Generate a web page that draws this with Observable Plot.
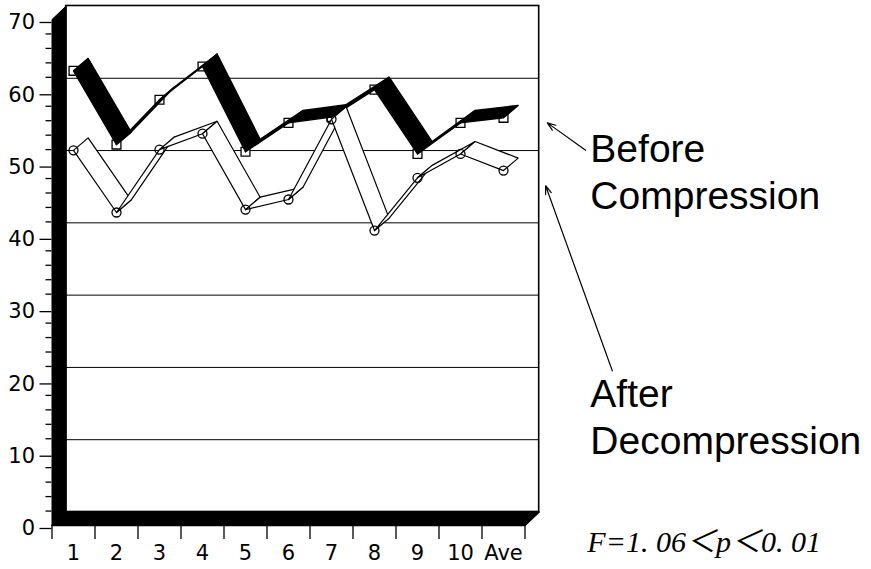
<!DOCTYPE html>
<html>
<head>
<meta charset="utf-8">
<script src="https://cdn.jsdelivr.net/npm/d3@7"></script>
<script src="https://cdn.jsdelivr.net/npm/@observablehq/plot@0.6"></script>
<style>
  html, body { margin: 0; padding: 0; background: #fff; overflow: hidden; }
  #chart svg { display: block; }
</style>
</head>
<body>
<div id="chart"></div>
<script>
// ---- data ----
const categories = ["1", "2", "3", "4", "5", "6", "7", "8", "9", "10", "Ave"];
const beforeCompression = [62.9, 52.7, 58.9, 63.5, 51.7, 55.7, 56.5, 60.3, 51.4, 55.7, 56.4];
const afterDecompression = [51.9, 43.3, 52.0, 54.2, 43.7, 45.1, 56.2, 40.8, 48.1, 51.4, 49.1];
const yTickValues = [0, 10, 20, 30, 40, 50, 60, 70];
const gridValues = [10, 20, 30, 40, 50, 60];
const statText = "F=1. 06＜p＜0. 01";

// ---- pseudo-3D depth (in data units) ----
const WALL_DX = 0.33, WALL_DY = 1.87;
const RIB_DX = 0.34, RIB_DY = 1.72;
const X0 = -0.5, X1 = categories.length - 0.5, YMAX = 70;

const idx = categories.map((_, i) => i);
const yMinorTicks = d3.range(0, YMAX + 1, 2).filter(v => v % 10 !== 0);
const xBoundaries = d3.range(X0, X1 + 0.001, 1);

function ribbons(values, name) {
  const pts = [];
  for (let i = 0; i < values.length - 1; i++) {
    const seg = name + i;
    pts.push({seg, x: i, y: values[i]});
    pts.push({seg, x: i + 1, y: values[i + 1]});
    pts.push({seg, x: i + 1 + RIB_DX, y: values[i + 1] + RIB_DY});
    pts.push({seg, x: i + RIB_DX, y: values[i] + RIB_DY});
  }
  return pts;
}

const leftWall = [
  {x: X0, y: 0}, {x: X0, y: YMAX},
  {x: X0 + WALL_DX, y: YMAX + WALL_DY}, {x: X0 + WALL_DX, y: WALL_DY}
];
const floor = [
  {x: X0, y: 0}, {x: X1, y: 0},
  {x: X1 + WALL_DX, y: WALL_DY}, {x: X0 + WALL_DX, y: WALL_DY}
];
const backWall = [{x1: X0 + WALL_DX, x2: X1 + WALL_DX, y1: WALL_DY, y2: YMAX + WALL_DY}];

const beforePts = idx.map(i => ({x: i, y: beforeCompression[i]}));
const afterPts = idx.map(i => ({x: i, y: afterDecompression[i]}));

const labels = [
  {x: 12.02, y: 52.0, text: "Before"},
  {x: 12.02, y: 45.5, text: "Compression"},
  {x: 12.02, y: 18.1, text: "After"},
  {x: 12.02, y: 11.6, text: "Decompression"}
];
const arrows = [
  {x1: 11.91, y1: 51.9, x2: 11.02, y2: 55.7},
  {x1: 12.53, y1: 21.4, x2: 10.98, y2: 47.0}
];

const chart = Plot.plot({
  width: 871,
  height: 569,
  marginLeft: 51.5,
  marginRight: 346.5,
  marginTop: 19,
  marginBottom: 44,
  x: {type: "linear", domain: [X0, X1], axis: null},
  y: {type: "linear", domain: [0, YMAX], axis: null},
  style: {fontFamily: "DejaVu Sans, sans-serif", color: "black", background: "white", overflow: "visible"},
  marks: [
    // back wall and gridlines
    Plot.rect(backWall, {x1: "x1", x2: "x2", y1: "y1", y2: "y2", fill: "white", stroke: "black", strokeWidth: 1.6}),
    Plot.ruleY(gridValues, {y: d => d + WALL_DY, x1: () => X0 + WALL_DX, x2: () => X1 + WALL_DX, stroke: "black", strokeWidth: 1}),
    // black side wall and floor
    Plot.line(leftWall, {x: "x", y: "y", curve: "linear-closed", fill: "black", stroke: "black", strokeWidth: 1}),
    Plot.line(floor, {x: "x", y: "y", curve: "linear-closed", fill: "black", stroke: "black", strokeWidth: 1.5}),
    // axes
    Plot.axisY(yTickValues, {tickSize: 12, tickPadding: 5, fontSize: 21, dy: 3, stroke: "black", strokeWidth: 1.3}),
    Plot.axisY(yMinorTicks, {tickSize: 6, tickFormat: () => "", stroke: "black", strokeWidth: 1.3}),
    Plot.axisX(xBoundaries, {tickSize: 14, tickFormat: () => "", stroke: "black", strokeWidth: 1.3}),
    Plot.axisX(idx, {tickSize: 0, tickPadding: 20, fontSize: 21, tickFormat: i => categories[i]}),
    // Before Compression: squares under black ribbons
    Plot.dot(beforePts, {x: "x", y: "y", symbol: "square", r: 5, fill: "white", stroke: "black", strokeWidth: 1.3}),
    Plot.line(ribbons(beforeCompression, "b"), {x: "x", y: "y", z: "seg", curve: "linear-closed", fill: "black", stroke: "black", strokeWidth: 1.4, strokeLinejoin: "round"}),
    // After Decompression: white ribbons with circles on top
    Plot.line(ribbons(afterDecompression, "a"), {x: "x", y: "y", z: "seg", curve: "linear-closed", fill: "white", stroke: "black", strokeWidth: 1.2, strokeLinejoin: "round"}),
    Plot.dot(afterPts, {x: "x", y: "y", r: 4.5, fill: "none", stroke: "black", strokeWidth: 1.3}),
    // annotations
    Plot.arrow(arrows, {x1: "x1", y1: "y1", x2: "x2", y2: "y2", stroke: "black", strokeWidth: 1.2, headLength: 11, headAngle: 40}),
    Plot.text(labels, {x: "x", y: "y", text: "text", textAnchor: "start", fontSize: 39, fontFamily: "Liberation Sans, Arial, sans-serif", fill: "black"}),
    Plot.text([statText], {x: () => 11.95, y: () => -2.35, text: d => d, textAnchor: "start", fontSize: 30, fontStyle: "italic", fontFamily: "Liberation Serif, 'Noto Sans CJK JP', serif", fill: "black"})
  ]
});
document.getElementById("chart").appendChild(chart);
</script>
</body>
</html>
